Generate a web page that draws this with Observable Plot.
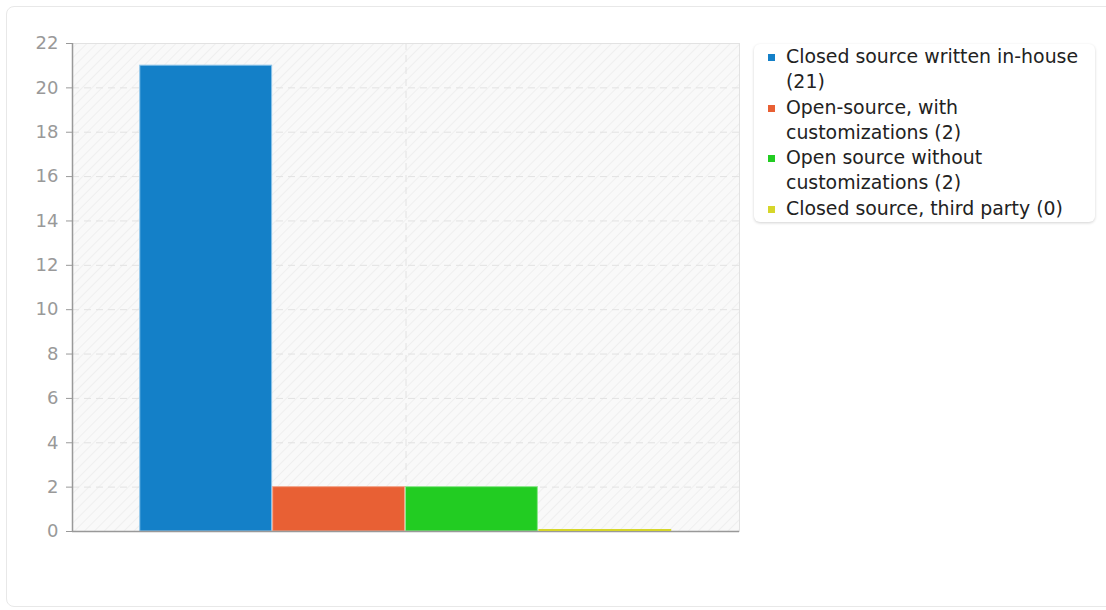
<!DOCTYPE html>
<html>
<head>
<meta charset="utf-8">
<script src="https://cdn.jsdelivr.net/npm/d3@7"></script>
<script src="https://cdn.jsdelivr.net/npm/@observablehq/plot@0.6"></script>
<style>
  html, body { margin: 0; padding: 0; background: #fff; font-family: "DejaVu Sans", sans-serif; }
  #card { position: absolute; left: 6px; top: 6px; width: 1120px; height: 601px; border: 1px solid #e8e8e8; border-radius: 8px; box-sizing: border-box; }
  #chart { position: absolute; left: 0; top: 0; }
  #legend { position: absolute; left: 754px; top: 44px; width: 341px; box-sizing: border-box; padding: 0px 6px 1px 32px; background: #fff; border-radius: 6px; box-shadow: 0 1px 3px rgba(0,0,0,0.18); font-size: 18.9px; line-height: 25.3px; color: #222; }
  #legend .item { position: relative; }
  #legend .sw { position: absolute; left: -18px; top: 10px; width: 7px; height: 7px; }
</style>
</head>
<body>
<div id="card"></div>
<div id="chart"></div>
<div id="legend"></div>
<script>
const series = ["Closed source written in-house", "Open-source, with customizations", "Open source without customizations", "Closed source, third party"];
const values = [21, 2, 2, 0];
const colors = ["#1480c8", "#e86034", "#22cc22", "#d6d62a"];
const strokes = ["#8cc4ea", "#f2a68c", "#8ee68e", "#e0e050"];
const yTicks = [0, 2, 4, 6, 8, 10, 12, 14, 16, 18, 20, 22];

const data = series.map((s, i) => ({name: s, i, value: values[i], color: colors[i], stroke: strokes[i]}));
const xDomain = [-0.51, series.length + 0.51];

const plot = Plot.plot({
  width: 745,
  height: 570,
  marginTop: 43,
  marginBottom: 39,
  marginLeft: 72,
  marginRight: 6,
  x: {domain: xDomain, axis: null},
  y: {domain: [0, 22], ticks: yTicks, label: null},
  marks: [
    Plot.frame({fill: "url(#hatch)", stroke: "#e2e2e2"}),
    Plot.ruleY(yTicks.slice(1, -1), {stroke: "#e2e2e2", strokeDasharray: "7,5"}),
    Plot.ruleX([series.length / 2], {stroke: "#e2e2e2", strokeDasharray: "7,5"}),
    Plot.rectY(data.filter(d => d.value > 0), {x1: "i", x2: d => d.i + 1, y: "value", fill: "color", stroke: "stroke", strokeWidth: 1, insetRight: 1}),
    Plot.ruleY([0], {stroke: "#999", strokeWidth: 1.5}),
    Plot.ruleX([xDomain[0]], {stroke: "#999", strokeWidth: 1.5}),
    Plot.ruleY(data.filter(d => d.value === 0), {x1: "i", x2: d => d.i + 1, y: "value", stroke: "color", strokeWidth: 2, dy: -1.5}),
    Plot.axisY({ticks: yTicks, tickSize: 6, tickPadding: 8, fontSize: 18, color: "#999", stroke: "#999", label: null})
  ],
  style: {fontFamily: "DejaVu Sans", fontSize: "18px", overflow: "visible", background: "transparent"}
});

const ns = "http://www.w3.org/2000/svg";
const defs = document.createElementNS(ns, "defs");
defs.innerHTML = '<pattern id="hatch" patternUnits="userSpaceOnUse" width="7" height="7" patternTransform="rotate(45)">' +
  '<rect width="7" height="7" fill="#f9f9f9"/><line x1="0" y1="0" x2="0" y2="7" stroke="#efefef" stroke-width="2"/></pattern>';
plot.insertBefore(defs, plot.firstChild);
document.getElementById("chart").appendChild(plot);

const legend = d3.select("#legend");
data.forEach(d => {
  const it = legend.append("div").attr("class", "item");
  it.append("span").attr("class", "sw").style("background", d.color);
  it.append("span").text(`${d.name} (${d.value})`);
});
</script>
</body>
</html>
